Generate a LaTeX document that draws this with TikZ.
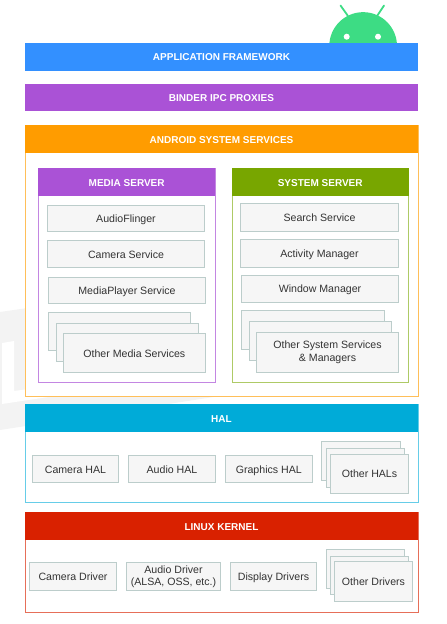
\documentclass[tikz,border=0pt]{standalone}
\usepackage{fontspec}
\setmainfont{Liberation Sans}
\definecolor{frameblue}{HTML}{3390FF}
\definecolor{binderpurple}{HTML}{AA52D6}
\definecolor{sysorange}{HTML}{FF9C00}
\definecolor{sysgreen}{HTML}{78A600}
\definecolor{halcyan}{HTML}{00ABD8}
\definecolor{kernelred}{HTML}{D92100}
\definecolor{droidgreen}{HTML}{3DDC84}
\definecolor{boxfill}{HTML}{F6F6F6}
\definecolor{boxline}{HTML}{BCCDCB}
\definecolor{markgray}{HTML}{F3F3F3}
\tikzset{
    header/.style={fill=#1, text=white, font=\fontsize{10}{12}\selectfont\bfseries, inner sep=0pt, outer sep=0pt, text height=8pt, text depth=0pt},
    outline/.style={draw=#1, fill=white, line width=0.8pt},
    service/.style={draw=boxline, fill=boxfill, line width=0.8pt, text=black!80, align=center, font=\fontsize{10.6}{12.5}\selectfont, inner sep=0pt, outer sep=0pt, text height=8.6pt, text depth=0pt},
    twolines/.style={service, text height=, text depth=},
}
% corners in pixels of the reference, y pointing down
\newcommand{\pxnode}[6][service]{%
    \node[#1, anchor=north west, minimum width=#4pt-#2pt, minimum height=#5pt-#3pt] (#6) at (#2,#3)}
\begin{document}
\begin{tikzpicture}[x=1pt, y=-1pt]
    \useasboundingbox (0,0) rectangle (447,624);
    % faint backdrop
    \fill[markgray] (0,312) -- (220,280) -- (220,396) -- (0,430) -- cycle;
    \fill[white] (2,343) -- (14,341) -- (14,391) -- (25,389.5) -- (55,385) -- (55,396) -- (2,404) -- cycle;
    % robot
    \fill[droidgreen] (329.3,46) arc[start angle=180, end angle=360, radius=33.85] -- cycle;
    \draw[droidgreen, line width=1.8pt, line cap=round] (340.5,5.5) -- (348,16);
    \draw[droidgreen, line width=1.8pt, line cap=round] (384,5.5) -- (377,16);
    \fill[white] (346.7,36.7) circle (3);
    \fill[white] (378,36.7) circle (3);
    % top bars
    \pxnode[header=frameblue]{25}{43}{418}{70.5}{appframework} {APPLICATION FRAMEWORK};
    \pxnode[header=binderpurple]{25}{84}{418}{111}{binder} {BINDER IPC PROXIES};
    % system services
    \draw[outline=sysorange!65] (25.4,125) rectangle (418,396);
    \pxnode[header=sysorange]{25}{125}{418}{153}{syshead} {ANDROID SYSTEM SERVICES};
    % media server
    \draw[outline=binderpurple!70] (38.7,168) rectangle (215,382);
    \pxnode[header=binderpurple]{38.3}{168}{215}{196}{mediahead} {MEDIA SERVER};
    \pxnode{47.7}{205.4}{204.3}{231.6}{audioflinger} {AudioFlinger};
    \pxnode{47.7}{240.4}{204.3}{267.6}{cameraservice} {Camera Service};
    \pxnode{48.7}{276.9}{205.3}{303.1}{mediaplayer} {MediaPlayer Service};
    \pxnode{48.7}{312.1}{190.3}{349.9}{mediaback} {};
    \pxnode{56.1}{323.1}{198.1}{361.6}{mediamid} {};
    \pxnode{63.4}{333.7}{205.3}{372.3}{mediaother} {Other Media Services};
    % system server
    \draw[outline=sysgreen!60] (232.1,168) rectangle (408.7,382);
    \pxnode[header=sysgreen]{231.7}{168}{408.7}{196}{serverhead} {SYSTEM SERVER};
    \pxnode{240.7}{203.7}{398.3}{231.1}{search} {Search Service};
    \pxnode{240.7}{239.7}{398.3}{267.1}{activity} {Activity Manager};
    \pxnode{241.7}{274.9}{398.3}{302.1}{window} {Window Manager};
    \pxnode{241.7}{310.4}{384.6}{349.1}{serverback} {};
    \pxnode{249.7}{321.7}{391.3}{360.1}{servermid} {};
    \pxnode[twolines]{256.7}{332.7}{398.3}{372.1}{serverother} {Other System Services\\\& Managers};
    % hal
    \draw[outline=halcyan!60] (25.4,404.3) rectangle (418,502.3);
    \pxnode[header=halcyan]{25}{404.3}{418}{432}{halhead} {HAL};
    \pxnode{32.7}{455.7}{118.3}{482.3}{camerahal} {Camera HAL};
    \pxnode{128.7}{455.7}{215.3}{482.3}{audiohal} {Audio HAL};
    \pxnode{225.7}{455.7}{311.9}{482.3}{graphicshal} {Graphics HAL};
    \pxnode{321.7}{441.7}{400.3}{480.6}{halback} {};
    \pxnode{326.7}{448.7}{404.3}{486.9}{halmid} {};
    \pxnode{330.7}{453.9}{408.3}{492.9}{halother} {Other HALs};
    % kernel
    \draw[outline=kernelred!65] (25.4,512) rectangle (418,612.3);
    \pxnode[header=kernelred]{25}{512}{418}{540}{kernelhead} {LINUX KERNEL};
    \pxnode{29.7}{562.7}{116.3}{590.3}{cameradriver} {Camera Driver};
    \pxnode[twolines]{126.7}{562.7}{220.3}{590.3}{audiodriver} {Audio Driver\\(ALSA, OSS, etc.)};
    \pxnode{230.7}{562.7}{316.3}{590.3}{displaydriver} {Display Drivers};
    \pxnode{326.7}{549.7}{404.3}{588.3}{driverback} {};
    \pxnode{330.7}{556.4}{408.3}{594.6}{drivermid} {};
    \pxnode{334.7}{561.7}{412.3}{600.9}{driverother} {Other Drivers};
\end{tikzpicture}
\end{document}
